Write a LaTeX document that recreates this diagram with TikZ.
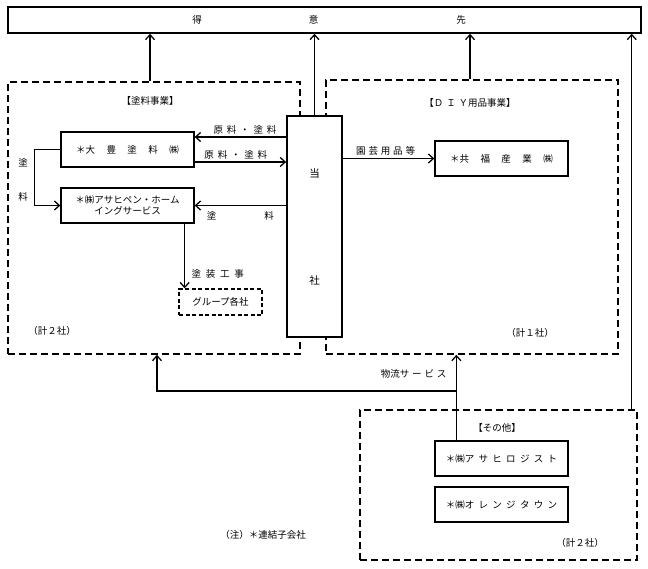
\documentclass[tikz,border=0pt]{standalone}
\usepackage{fontspec}
\setmainfont{Noto Sans CJK JP}
\usetikzlibrary{arrows.meta}

\begin{document}
\begin{tikzpicture}[x=1pt,y=-1pt,
  box/.style={draw, line width=1.3pt, inner sep=0pt, fill=white},
  dbox/.style={draw, line width=1.5pt, dash pattern=on 7pt off 4pt, inner sep=0pt},
  gbox/.style={draw, line width=1.2pt, dash pattern=on 4pt off 2.5pt, inner sep=0pt},
  conn/.style={line width=1.3pt},
  >={Straight Barb[length=5pt,width=9pt]},
  font=\fontsize{9.5}{11.5}\selectfont]
\useasboundingbox (0,0) rectangle (648,568);

\node[box, line width=1.5pt, minimum width=633, minimum height=26] (tokui) at (324.5,20) {};
\node (tokuitext) at (329,20) {得\hspace{107pt}意\hspace{138pt}先};

\node[dbox, minimum width=292, minimum height=272] (toryo) at (154,218) {};
\node[dbox, minimum width=292, minimum height=274] (diy) at (472,217) {};
\node[dbox, minimum width=277, minimum height=150] (sonota) at (498.5,485) {};

\node[box, line width=1.7pt, minimum width=55, minimum height=221] (tosha) at (314.5,226.5) {};
\node (toshaA) at (314.5,174) {\fontsize{10.5}{12}\selectfont 当};
\node (toshaB) at (314.5,281) {\fontsize{10.5}{12}\selectfont 社};

\node[box, minimum width=133, minimum height=35] (taiho) at (127.5,149.5) {＊大\hspace{1.2em}豊\hspace{1.2em}塗\hspace{1.2em}料\hspace{1.2em}㈱};
\node[box, minimum width=133, minimum height=35, align=center] (asahipen) at (127.5,205.5) {＊㈱アサヒペン・ホーム\\イングサービス};
\node[gbox, minimum width=83, minimum height=26] (group) at (220.5,302) {グループ各社};
\node[box, minimum width=133, minimum height=35] (kyofuku) at (501.5,158.5) {＊共\hspace{1.2em}福\hspace{1.2em}産\hspace{1.2em}業\hspace{1.2em}㈱};
\node[box, minimum width=133, minimum height=35] (logist) at (501.5,458.5) {＊㈱ア\hspace{0.45em}サ\hspace{0.45em}ヒ\hspace{0.45em}ロ\hspace{0.45em}ジ\hspace{0.45em}ス\hspace{0.45em}ト};
\node[box, minimum width=133, minimum height=35] (orange) at (501.5,504.5) {＊㈱オ\hspace{0.45em}レ\hspace{0.45em}ン\hspace{0.45em}ジ\hspace{0.45em}タ\hspace{0.45em}ウ\hspace{0.45em}ン};

\node (toryotitle) at (150,101) {【塗料事業】};
\node (toryocount) at (52,331) {（計２社）};
\node (diytitle) at (470,103) {【Ｄ\hspace{0.3em}Ｉ\hspace{0.3em}Ｙ用品事業】};
\node (diycount) at (530,333) {（計１社）};
\node (sonotatitle) at (497,428) {【その他】};
\node (sonotacount) at (580,543) {（計２社）};
\node (note) at (263,535) {（注）＊連結子会社};

% to customers
\draw[conn,->] ([xshift=-4]toryo.north) -- ([xshift=-4]toryo.north |- tokui.south);
\draw[conn,->] (tosha.north) -- (tosha.north |- tokui.south);
\draw[conn,->] ([xshift=-2]diy.north) -- ([xshift=-2]diy.north |- tokui.south);
\draw[conn,->] ([xshift=-6]sonota.north east) -- ([xshift=-6]sonota.north east |- tokui.south);

% paint business
\draw[conn,->] ([yshift=12.5]taiho.east -| tosha.west) -- ([yshift=12.5]taiho.east)
  node[pos=0.45,above=-1pt] {原\hspace{0.4em}料\hspace{0.4em}・\hspace{0.4em}塗\hspace{0.4em}料};
\draw[conn,->] ([yshift=-12.5]taiho.east) -- ([yshift=-12.5]taiho.east -| tosha.west)
  node[pos=0.45,above=-1pt] {原\hspace{0.4em}料\hspace{0.4em}・\hspace{0.4em}塗\hspace{0.4em}料};
\draw[conn,->] (tosha.west |- asahipen.east) -- (asahipen.east)
  node[midway,below=2pt] {塗\hspace{48pt}料};
\draw[conn,->] (taiho.west) -- ++(-26,0) coordinate (bend) |- (asahipen.west);
\node (bendA) at (23,163) {塗};
\node (bendB) at (23,197) {料};
\draw[conn,->] ([xshift=-10]asahipen.south east) -- ([xshift=-10]asahipen.south east |- group.north)
  node[pos=0.78,right=3pt] {塗\hspace{0.5em}装\hspace{0.5em}工\hspace{0.5em}事};

% DIY business
\draw[conn,->] (tosha.east |- kyofuku.west) -- (kyofuku.west)
  node[midway,above=-1pt,xshift=-3pt] {園\hspace{0.3em}芸\hspace{0.3em}用\hspace{0.3em}品\hspace{0.3em}等};

% logistics
\coordinate (split) at ([xshift=22]logist.north west |- 0,391);
\draw[conn,->] ([xshift=22]logist.north west) -- ([xshift=22]logist.north west |- diy.south)
  node[pos=0.78,left=6pt] {物流サ\hspace{0.3em}ー\hspace{0.3em}ビ\hspace{0.3em}ス};
\draw[conn,->] (split) -| ([xshift=3]toryo.south);
\end{tikzpicture}
\end{document}
